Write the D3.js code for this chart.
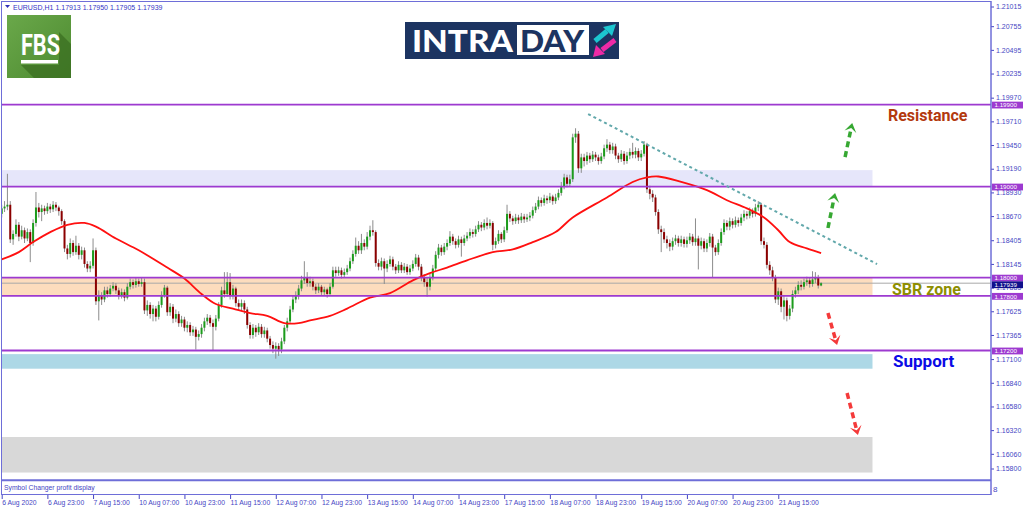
<!DOCTYPE html>
<html>
<head>
<meta charset="utf-8">
<script src="https://cdn.jsdelivr.net/npm/d3@7/dist/d3.min.js"></script>
<style>
html, body { margin: 0; padding: 0; background: #fff; }
svg { display: block; font-family: "Liberation Sans", Arial, sans-serif; }
</style>
</head>
<body>
<svg id="chart" width="1024" height="511"></svg>
<script>
// EURUSD H1, 6 Aug 07:00 -> 24 Aug 06:00 (one value per hourly bar)
const symbol = 'EURUSD,H1'
const firstOpen = 1.1870
const closes = [
  1.1876,1.1878,1.1880,1.1842,1.1848,1.1858,1.1845,1.1852,1.1843,1.1850,1.1838,1.1860,1.1877,1.1872,1.1876,1.1873,1.1878,
  1.1875,1.1880,1.1877,1.1873,1.1862,1.1832,1.1826,1.1838,1.1828,1.1835,1.1825,1.1830,1.1815,1.1810,1.1813,1.1830,1.1774,1.1780,1.1776,1.1786,1.1782,1.1788,1.1791,1.1786,
  1.1780,1.1784,1.1778,1.1790,1.1795,1.1792,1.1796,1.1793,1.1795,1.1764,1.1770,1.1760,1.1766,1.1757,1.1770,1.1781,1.1789,1.1762,1.1768,1.1755,1.1760,1.1750,1.1754,1.1745,
  1.1748,1.1740,1.1743,1.1735,1.1738,1.1745,1.1752,1.1756,1.1750,1.1746,1.1755,1.1770,1.1786,1.1782,1.1795,1.1780,1.1788,1.1772,1.1768,1.1772,1.1765,1.1748,1.1737,1.1745,
  1.1740,1.1746,1.1738,1.1742,1.1733,1.1726,1.1722,1.1725,1.1721,1.1730,1.1745,1.1752,1.1765,1.1776,1.1780,1.1788,1.1797,1.1800,1.1794,1.1796,1.1790,1.1786,1.1790,1.1784,
  1.1787,1.1782,1.1790,1.1808,1.1805,1.1808,1.1803,1.1806,1.1810,1.1818,1.1826,1.1835,1.1830,1.1838,1.1834,1.1845,1.1852,1.1850,1.1816,1.1812,1.1818,1.1810,1.1815,1.1820,
  1.1812,1.1808,1.1814,1.1808,1.1812,1.1806,1.1810,1.1815,1.1822,1.1812,1.1800,1.1795,1.1790,1.1800,1.1810,1.1825,1.1833,1.1828,1.1834,1.1838,1.1845,1.1840,1.1836,1.1842,
  1.1838,1.1843,1.1846,1.1850,1.1848,1.1853,1.1858,1.1855,1.1860,1.1857,1.1860,1.1836,1.1840,1.1848,1.1842,1.1852,1.1870,1.1865,1.1862,1.1866,1.1863,1.1867,1.1864,1.1866,
  1.1868,1.1874,1.1878,1.1885,1.1882,1.1887,1.1885,1.1889,1.1884,1.1888,1.1893,1.1900,1.1910,1.1903,1.1908,1.1954,1.1958,1.1920,1.1932,1.1928,1.1934,1.1930,1.1935,1.1932,
  1.1928,1.1933,1.1942,1.1946,1.1940,1.1944,1.1934,1.1930,1.1936,1.1928,1.1934,1.1938,1.1935,1.1939,1.1932,1.1936,1.1946,1.1897,1.1892,1.1888,1.1872,1.1853,1.1850,1.1842,
  1.1838,1.1834,1.1840,1.1843,1.1838,1.1842,1.1837,1.1841,1.1845,1.1839,1.1843,1.1835,1.1840,1.1832,1.1838,1.1845,1.1833,1.1828,1.1838,1.1850,1.1860,1.1856,1.1862,1.1858,
  1.1863,1.1860,1.1866,1.1870,1.1868,1.1873,1.1870,1.1877,1.1880,1.1840,1.1836,1.1814,1.1808,1.1800,1.1776,1.1785,1.1768,1.1775,1.1758,1.1766,1.1782,1.1786,1.1792,1.1790,
  1.1795,1.1797,1.1793,1.1798,1.1800,1.17913,1.17939
]
const highs = [
  1.1880,1.1884,1.1914,1.1884,1.1852,1.1864,1.1861,1.1857,1.1855,1.1854,1.1853,1.1864,1.1894,1.1882,1.1880,1.1879,1.1882,
  1.1881,1.1884,1.1883,1.1879,1.1875,1.1864,1.1836,1.1843,1.1841,1.1846,1.1838,1.1834,1.1833,1.1818,1.1818,1.1843,1.1833,1.1786,1.1784,1.1790,1.1790,1.1792,1.1795,1.1794,
  1.1789,1.1788,1.1787,1.1794,1.1799,1.1798,1.1800,1.1799,1.1800,1.1799,1.1775,1.1773,1.1770,1.1769,1.1774,1.1785,1.1792,1.1791,1.1772,1.1771,1.1765,1.1763,1.1758,1.1757,
  1.1752,1.1751,1.1747,1.1746,1.1742,1.1749,1.1756,1.1760,1.1759,1.1754,1.1759,1.1773,1.1790,1.1806,1.1806,1.1805,1.1792,1.1790,1.1776,1.1776,1.1775,1.1768,1.1751,1.1749,
  1.1748,1.1750,1.1749,1.1746,1.1745,1.1736,1.1730,1.1729,1.1728,1.1734,1.1748,1.1756,1.1769,1.1780,1.1785,1.1792,1.1802,1.1818,1.1806,1.1801,1.1799,1.1793,1.1794,1.1792,
  1.1790,1.1789,1.1794,1.1812,1.1812,1.1812,1.1811,1.1810,1.1814,1.1822,1.1830,1.1844,1.1840,1.1848,1.1842,1.1850,1.1857,1.1863,1.1852,1.1820,1.1822,1.1821,1.1819,1.1824,
  1.1823,1.1815,1.1818,1.1817,1.1816,1.1815,1.1814,1.1819,1.1826,1.1825,1.1815,1.1804,1.1800,1.1804,1.1814,1.1829,1.1837,1.1836,1.1838,1.1842,1.1851,1.1848,1.1843,1.1846,
  1.1845,1.1847,1.1850,1.1854,1.1853,1.1857,1.1862,1.1861,1.1864,1.1866,1.1864,1.1862,1.1844,1.1852,1.1850,1.1856,1.1880,1.1873,1.1868,1.1870,1.1869,1.1871,1.1870,1.1870,
  1.1872,1.1878,1.1882,1.1889,1.1888,1.1891,1.1890,1.1893,1.1891,1.1892,1.1897,1.1905,1.1914,1.1913,1.1913,1.1958,1.1964,1.1961,1.1936,1.1936,1.1938,1.1937,1.1939,1.1938,
  1.1935,1.1937,1.1946,1.1952,1.1949,1.1948,1.1947,1.1937,1.1940,1.1939,1.1938,1.1942,1.1948,1.1943,1.1942,1.1940,1.1950,1.1948,1.1901,1.1896,1.1891,1.1875,1.1857,1.1854,
  1.1846,1.1842,1.1844,1.1847,1.1846,1.1846,1.1845,1.1845,1.1849,1.1848,1.1865,1.1846,1.1844,1.1843,1.1842,1.1849,1.1848,1.1836,1.1842,1.1854,1.1864,1.1863,1.1866,1.1865,
  1.1867,1.1866,1.1870,1.1874,1.1873,1.1877,1.1876,1.1881,1.1884,1.1882,1.1844,1.1839,1.1818,1.1812,1.1803,1.1789,1.1788,1.1780,1.1778,1.1770,1.1786,1.1790,1.1796,1.1797,
  1.1799,1.1801,1.1800,1.1807,1.1806,1.1803,1.17950
]
const lows = [
  1.1866,1.1872,1.1874,1.1838,1.1836,1.1845,1.1840,1.1842,1.1838,1.1840,1.1817,1.1835,1.1856,1.1866,1.1862,1.1869,1.1870,
  1.1871,1.1872,1.1873,1.1868,1.1858,1.1828,1.1820,1.1822,1.1824,1.1825,1.1820,1.1820,1.1811,1.1806,1.1806,1.1810,1.1770,1.1753,1.1770,1.1773,1.1778,1.1779,1.1785,1.1782,
  1.1776,1.1777,1.1774,1.1776,1.1787,1.1788,1.1789,1.1790,1.1790,1.1760,1.1758,1.1755,1.1752,1.1752,1.1754,1.1767,1.1778,1.1758,1.1758,1.1750,1.1751,1.1746,1.1746,1.1741,
  1.1740,1.1736,1.1736,1.1721,1.1731,1.1734,1.1741,1.1748,1.1746,1.1720,1.1742,1.1752,1.1767,1.1778,1.1779,1.1776,1.1776,1.1768,1.1764,1.1764,1.1760,1.1744,1.1733,1.1733,
  1.1735,1.1737,1.1734,1.1734,1.1729,1.1722,1.1717,1.1711,1.1714,1.1717,1.1727,1.1741,1.1749,1.1762,1.1772,1.1776,1.1785,1.1793,1.1790,1.1790,1.1786,1.1782,1.1783,1.1781,
  1.1781,1.1778,1.1780,1.1788,1.1801,1.1802,1.1799,1.1800,1.1803,1.1807,1.1815,1.1823,1.1826,1.1826,1.1830,1.1831,1.1841,1.1846,1.1812,1.1808,1.1808,1.1793,1.1806,1.1812,
  1.1808,1.1804,1.1805,1.1805,1.1805,1.1803,1.1803,1.1807,1.1812,1.1808,1.1796,1.1790,1.1779,1.1786,1.1797,1.1807,1.1821,1.1824,1.1825,1.1830,1.1835,1.1836,1.1832,1.1833,
  1.1823,1.1835,1.1840,1.1843,1.1844,1.1845,1.1850,1.1851,1.1852,1.1853,1.1854,1.1830,1.1832,1.1837,1.1838,1.1839,1.1849,1.1861,1.1858,1.1859,1.1859,1.1860,1.1860,1.1861,
  1.1862,1.1865,1.1871,1.1875,1.1878,1.1879,1.1881,1.1882,1.1880,1.1881,1.1885,1.1890,1.1897,1.1899,1.1900,1.1905,1.1948,1.1915,1.1915,1.1922,1.1924,1.1926,1.1927,1.1928,
  1.1924,1.1925,1.1930,1.1938,1.1936,1.1936,1.1930,1.1926,1.1927,1.1924,1.1925,1.1930,1.1931,1.1931,1.1928,1.1928,1.1933,1.1893,1.1886,1.1883,1.1868,1.1848,1.1828,1.1838,
  1.1832,1.1829,1.1830,1.1836,1.1834,1.1834,1.1833,1.1833,1.1837,1.1835,1.1835,1.1809,1.1831,1.1828,1.1828,1.1834,1.1800,1.1824,1.1825,1.1835,1.1847,1.1852,1.1852,1.1854,
  1.1855,1.1856,1.1857,1.1862,1.1864,1.1865,1.1866,1.1867,1.1873,1.1836,1.1832,1.1810,1.1803,1.1796,1.1772,1.1770,1.1762,1.1754,1.1752,1.1754,1.1762,1.1778,1.1782,1.1786,
  1.1787,1.1791,1.1789,1.1790,1.1794,1.1788,1.17905
]

// moving average
const maBars = [0, 6, 11, 17, 23, 29, 33, 40, 48, 58, 64, 70, 75, 81, 87, 93, 99, 104, 108, 115, 121, 129, 136, 144, 150,
  156, 163, 172, 179, 186, 194, 200, 212, 221, 226, 230, 238, 247, 254, 261, 267, 272, 276, 282, 287]
const maValues = [1.1820, 1.1828, 1.1839, 1.1850, 1.1858, 1.1860, 1.1856, 1.1843, 1.1830, 1.1811, 1.1799, 1.1782, 1.1771,
  1.1766, 1.1761, 1.1758, 1.1750, 1.1750, 1.1753, 1.1758, 1.1766, 1.1778, 1.1783, 1.1797, 1.1805, 1.1811, 1.1819, 1.1828,
  1.1831, 1.1839, 1.1850, 1.1866, 1.1888, 1.1905, 1.1910, 1.1911, 1.1905, 1.1896, 1.1885, 1.1876, 1.1866, 1.1852, 1.1839,
  1.1832, 1.1827]

const levels = [1.1990, 1.1900, 1.1800, 1.1780, 1.1720]
const zoneLows = [1.1900, 1.1780, 1.1700, 1.1586]
const zoneHighs = [1.1918, 1.1800, 1.1716, 1.1625]
const zoneEndBar = 305

const trendBars = [205.4, 306.6]
const trendPrices = [1.19796, 1.18149]

const arrowFromBars = [295.4, 289.4, 289.4, 296.1]
const arrowFromPrices = [1.19324, 1.18545, 1.17611, 1.16733]
const arrowToBars = [297.9, 291.9, 292.6, 299.9]
const arrowToPrices = [1.19697, 1.18929, 1.17260, 1.16272]

const noteTexts = ['Resistance', 'SBR zone', 'Support']
const noteBars = [310.4, 311.8, 312.2]
const notePrices = [1.19719, 1.17809, 1.17019]

const priceTicks = [1.21015, 1.20755, 1.20495, 1.20235, 1.19970, 1.19710, 1.19450, 1.19190, 1.18930, 1.18670, 1.18405,
  1.18145, 1.17885, 1.17625, 1.17365, 1.17100, 1.16840, 1.16580, 1.16320, 1.16060, 1.15800]
const timeLabels = ['6 Aug 2020', '6 Aug 23:00', '7 Aug 15:00', '10 Aug 07:00', '10 Aug 23:00', '11 Aug 15:00',
  '12 Aug 07:00', '12 Aug 23:00', '13 Aug 15:00', '14 Aug 07:00', '14 Aug 23:00', '17 Aug 15:00', '18 Aug 07:00',
  '18 Aug 23:00', '19 Aug 15:00', '20 Aug 07:00', '20 Aug 23:00', '21 Aug 15:00']
const barsPerLabel = 16

const svg = d3.select('#chart')
const frameColor = '#6e6ed8'
const axisColor = '#4646c4'
const levelColor = '#9d3ad0'
const zoneColors = ['#e6e6fa', '#fddcbd', '#add8e6', '#d8d8d8']
const noteColors = ['#b3390e', '#8e8e00', '#0a0ae6']
const axisX = 991

const x = d3.scaleLinear().domain([0, closes.length - 1]).range([1.7, 821.1])
const y = d3.scaleLinear().domain([1.158, 1.21015]).range([478, 3])

const bars = closes.map((c, i) => ({ i, o: i ? closes[i - 1] : firstOpen, c, h: highs[i], l: lows[i] }))
const last = bars[bars.length - 1]

svg.append('rect').attr('width', 1024).attr('height', 511).attr('fill', '#fff')
const defs = svg.append('defs')
defs.append('clipPath').attr('id', 'plot').append('rect')
  .attr('x', 2).attr('y', 2).attr('width', axisX - 2).attr('height', 477)

const gPlot = svg.append('g').attr('clip-path', 'url(#plot)')

// zones
gPlot.append('g').selectAll('rect')
  .data(zoneLows.map((lo, i) => ({ lo, hi: zoneHighs[i], i })))
  .join('rect')
  .attr('x', x(-2)).attr('width', x(zoneEndBar) - x(-2))
  .attr('y', (d) => y(d.hi)).attr('height', (d) => y(d.lo) - y(d.hi))
  .attr('fill', (d) => zoneColors[d.i])

// bid line
gPlot.append('line')
  .attr('x1', 2).attr('x2', axisX).attr('y1', y(last.c)).attr('y2', y(last.c))
  .attr('stroke', '#a8a8a8').attr('stroke-width', 1)

// candles
const gCandles = gPlot.append('g')
gCandles.selectAll('line').data(bars).join('line')
  .attr('x1', (d) => x(d.i)).attr('x2', (d) => x(d.i))
  .attr('y1', (d) => y(d.h)).attr('y2', (d) => y(d.l))
  .attr('stroke', '#8c8c8c').attr('stroke-width', 1)
gCandles.selectAll('rect').data(bars).join('rect')
  .attr('x', (d) => x(d.i) - 1).attr('width', 2)
  .attr('y', (d) => y(Math.max(d.o, d.c)))
  .attr('height', (d) => Math.max(1, Math.abs(y(d.o) - y(d.c))))
  .attr('fill', (d) => d.c >= d.o ? '#1c9c1c' : '#8b0000')

// moving average
gPlot.append('path')
  .datum(maBars.map((b, i) => [x(b), y(maValues[i])]))
  .attr('d', d3.line().curve(d3.curveCatmullRom))
  .attr('fill', 'none').attr('stroke', '#ff1010').attr('stroke-width', 1.8)

// levels
gPlot.append('g').selectAll('line').data(levels).join('line')
  .attr('x1', 2).attr('x2', axisX).attr('y1', y).attr('y2', y)
  .attr('stroke', levelColor).attr('stroke-width', 1.8)

// trendline
gPlot.append('line')
  .attr('x1', x(trendBars[0])).attr('y1', y(trendPrices[0]))
  .attr('x2', x(trendBars[1])).attr('y2', y(trendPrices[1]))
  .attr('stroke', '#62a8ab').attr('stroke-width', 2).attr('stroke-dasharray', '3,3')

// arrows
const gArrows = gPlot.append('g')
arrowFromBars.forEach((b, i) => {
  const x1 = x(b), y1 = y(arrowFromPrices[i]), x2 = x(arrowToBars[i]), y2 = y(arrowToPrices[i])
  const color = arrowToPrices[i] > arrowFromPrices[i] ? '#36a832' : '#f43a3a'
  const len = Math.hypot(x2 - x1, y2 - y1)
  const ux = (x2 - x1) / len, uy = (y2 - y1) / len, nx = -uy, ny = ux
  gArrows.append('line')
    .attr('x1', x1).attr('y1', y1).attr('x2', x2 - ux * 6).attr('y2', y2 - uy * 6)
    .attr('stroke', color).attr('stroke-width', 3.5).attr('stroke-dasharray', '6,4')
  const head = [[x2, y2], [x2 - ux * 9 + nx * 6, y2 - uy * 9 + ny * 6], [x2 - ux * 5, y2 - uy * 5],
    [x2 - ux * 9 - nx * 6, y2 - uy * 9 - ny * 6]]
  gArrows.append('path').attr('d', d3.line()(head) + 'Z').attr('fill', color)
})

// notes
gPlot.append('g').selectAll('text').data(noteTexts).join('text')
  .attr('x', (_, i) => x(noteBars[i])).attr('y', (_, i) => y(notePrices[i]))
  .attr('font-family', 'Roboto, "Liberation Sans", sans-serif').attr('font-weight', 700)
  .attr('font-size', (_, i) => i === 2 ? 17 : 16)
  .attr('fill', (_, i) => noteColors[i])
  .text((d) => d)

// FBS logo
const grad = defs.append('linearGradient').attr('id', 'fbsGrad')
  .attr('x1', 0).attr('y1', 0).attr('x2', 1).attr('y2', 1)
grad.append('stop').attr('offset', 0).attr('stop-color', '#6aa84a')
grad.append('stop').attr('offset', 1).attr('stop-color', '#4d8a30')
defs.append('clipPath').attr('id', 'fbsClip').append('rect').attr('x', 7).attr('y', 15).attr('width', 64).attr('height', 63)
const fbs = svg.append('g')
fbs.append('rect').attr('x', 7).attr('y', 15).attr('width', 64).attr('height', 63).attr('fill', 'url(#fbsGrad)')
fbs.append('path').attr('clip-path', 'url(#fbsClip)')
  .attr('d', 'M59,32 L75,48 L75,82 L38,82 L21,65 L59,65 Z').attr('fill', '#3b6f22').attr('opacity', 0.75)
fbs.append('text').attr('x', 21).attr('y', 55)
  .attr('font-family', 'Roboto, "Liberation Sans", sans-serif').attr('font-weight', 700).attr('font-size', 30)
  .attr('textLength', 39).attr('lengthAdjust', 'spacingAndGlyphs').attr('fill', '#fff').text('FBS')
fbs.append('rect').attr('x', 21).attr('y', 60).attr('width', 37).attr('height', 3.5).attr('fill', '#fff')

// INTRADAY logo
const intra = svg.append('g')
intra.append('rect').attr('x', 405).attr('y', 22).attr('width', 214).attr('height', 37).attr('fill', '#1c3461')
intra.append('rect').attr('x', 517).attr('y', 25).attr('width', 72).attr('height', 30).attr('fill', '#fff')
intra.append('text').attr('x', 412).attr('y', 52)
  .attr('font-family', 'Lato, Roboto, sans-serif').attr('font-weight', 900).attr('font-size', 30)
  .attr('textLength', 101).attr('lengthAdjust', 'spacingAndGlyphs').attr('fill', '#fff').text('INTRA')
intra.append('text').attr('x', 520).attr('y', 52)
  .attr('font-family', 'Lato, Roboto, sans-serif').attr('font-weight', 900).attr('font-size', 30)
  .attr('textLength', 64).attr('lengthAdjust', 'spacingAndGlyphs').attr('fill', '#1c3461').text('DAY')
intra.append('line').attr('x1', 595).attr('y1', 41).attr('x2', 607).attr('y2', 31)
  .attr('stroke', '#1cc6d0').attr('stroke-width', 5)
intra.append('path').attr('d', 'M616,24 L603,27 L612,36 Z').attr('fill', '#1cc6d0')
intra.append('line').attr('x1', 615).attr('y1', 40).attr('x2', 602).attr('y2', 50)
  .attr('stroke', '#ee2aa6').attr('stroke-width', 5)
intra.append('path').attr('d', 'M593,57 L596,45 L605,54 Z').attr('fill', '#ee2aa6')

// header
svg.append('path').attr('d', 'M5,5 L10,5 L7.5,8 Z').attr('fill', '#2f2fb8')
svg.append('text').attr('x', 13).attr('y', 9.5).attr('font-size', 7).attr('fill', '#3535c5')
  .text(`${symbol}  ${[last.o, last.h, last.l, last.c].map((v) => v.toFixed(5)).join(' ')}`)

// frame and sub-window
svg.append('rect').attr('x', 1.5).attr('y', 1.5).attr('width', axisX - 1.5).attr('height', 493)
  .attr('fill', 'none').attr('stroke', frameColor).attr('stroke-width', 1)
svg.append('line').attr('x1', 1.5).attr('x2', axisX).attr('y1', 480.3).attr('y2', 480.3)
  .attr('stroke', frameColor).attr('stroke-width', 2)
svg.append('text').attr('x', 4).attr('y', 490).attr('font-size', 6.8).attr('fill', axisColor)
  .text('Symbol Changer profit display')
svg.append('text').attr('x', 993).attr('y', 492).attr('font-size', 8).attr('fill', axisColor).text('8')

// price axis
const yAxis = svg.append('g').attr('transform', `translate(${axisX},0)`)
  .call(d3.axisRight(y).tickValues(priceTicks).tickFormat(d3.format('.5f')).tickSize(3).tickPadding(2))
yAxis.attr('font-family', '"Liberation Sans", Arial, sans-serif').attr('font-size', 7)
yAxis.select('.domain').remove()
yAxis.selectAll('.tick').attr('transform', (d) => `translate(0,${Math.max(7, Math.min(469, y(d)))})`)
yAxis.selectAll('line').attr('stroke', axisColor)
yAxis.selectAll('text').attr('fill', axisColor)
svg.append('line').attr('x1', axisX).attr('x2', axisX).attr('y1', 1).attr('y2', 495)
  .attr('stroke', frameColor).attr('stroke-width', 1)

// level price boxes (bid box sits just under its line, as in the terminal)
const boxes = levels.map((v) => ({ v, fill: levelColor, dy: 0.5 })).concat([{ v: last.c, fill: '#10108c', dy: 1.6 }])
const gBoxes = svg.append('g')
gBoxes.selectAll('rect').data(boxes).join('rect')
  .attr('x', axisX + 1).attr('y', (d) => y(d.v) + d.dy - 3.4).attr('width', 31).attr('height', 6.8)
  .attr('fill', (d) => d.fill)
gBoxes.selectAll('text').data(boxes).join('text')
  .attr('x', axisX + 3.5).attr('y', (d) => y(d.v) + d.dy).attr('dy', '0.35em')
  .attr('font-size', 6.2).attr('fill', '#fff')
  .text((d) => d.v.toFixed(5))

// time axis
const xAxis = svg.append('g').attr('transform', 'translate(0,495)')
  .call(d3.axisBottom(x).tickValues(timeLabels.map((_, i) => i * barsPerLabel))
    .tickFormat((_, i) => timeLabels[i]).tickSize(4))
xAxis.attr('font-family', '"Liberation Sans", Arial, sans-serif').attr('font-size', 6.8)
xAxis.select('.domain').remove()
xAxis.selectAll('line').attr('stroke', axisColor)
xAxis.selectAll('text').attr('fill', axisColor).attr('text-anchor', 'start').attr('x', 0).attr('y', 5)
</script>
</body>
</html>
